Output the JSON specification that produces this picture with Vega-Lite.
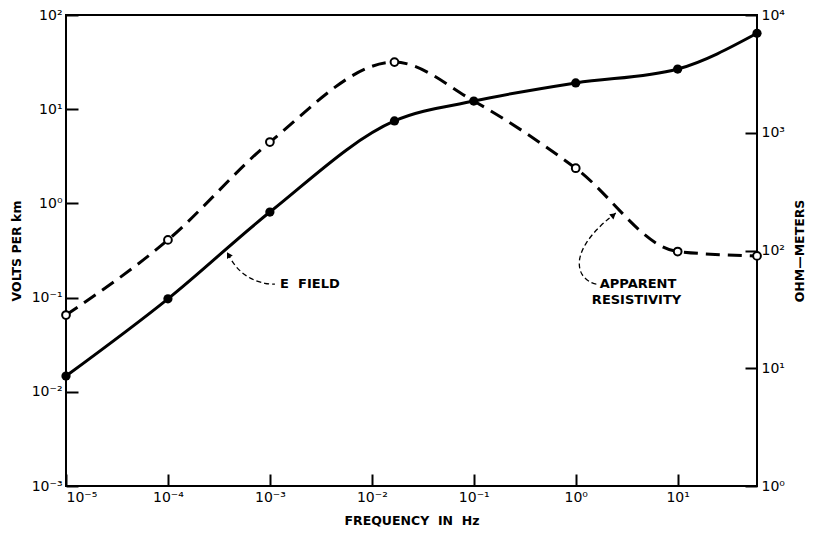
{
  "$schema": "https://vega.github.io/schema/vega-lite/v6.json",
  "width": 691,
  "height": 471,
  "autosize": {"type": "none"},
  "padding": {"left": 66, "top": 15, "right": 56, "bottom": 49},
  "background": "white",
  "config": {
    "view": {"stroke": "black", "strokeWidth": 2},
    "font": "DejaVu Sans",
    "axis": {
      "grid": false,
      "domain": false,
      "labelColor": "black",
      "labelFontSize": 14,
      "labelFont": "DejaVu Sans",
      "labelFontWeight": "normal",
      "titleColor": "black",
      "titleFont": "DejaVu Sans",
      "titleFontSize": 12.5,
      "titleFontWeight": "bold"
    }
  },
  "datasets": {
    "efield": [
      {"f": 0.00001, "v": 0.0147},
      {"f": 0.0001, "v": 0.097},
      {"f": 0.001, "v": 0.81},
      {"f": 0.01667, "v": 7.5},
      {"f": 0.1, "v": 12.2},
      {"f": 1, "v": 19.0},
      {"f": 10, "v": 26.7},
      {"f": 60, "v": 64}
    ],
    "resist": [
      {"f": 0.00001, "r": 28.3, "m": true},
      {"f": 0.0001, "r": 123, "m": true},
      {"f": 0.001, "r": 834, "m": true},
      {"f": 0.01667, "r": 3980, "m": true},
      {"f": 0.1, "r": 1860, "m": false},
      {"f": 1, "r": 500, "m": true},
      {"f": 10, "r": 98, "m": true},
      {"f": 60, "r": 90, "m": true}
    ],
    "eleader": [
      {"o": 1, "f": 0.000387, "v": 0.29},
      {"o": 2, "f": 0.000465, "v": 0.206},
      {"o": 3, "f": 0.000637, "v": 0.157},
      {"o": 4, "f": 0.000916, "v": 0.139},
      {"o": 5, "f": 0.00112, "v": 0.139}
    ],
    "rleader": [
      {"o": 1, "f": 2.47, "r": 208},
      {"o": 2, "f": 1.76, "r": 165},
      {"o": 3, "f": 1.25, "r": 118},
      {"o": 4, "f": 1.047, "r": 83},
      {"o": 5, "f": 1.12, "r": 60.7},
      {"o": 6, "f": 1.47, "r": 51.9},
      {"o": 7, "f": 1.64, "r": 51.9}
    ]
  },
  "layer": [
    {
      "layer": [
        {
          "data": {"name": "efield"},
          "mark": {"type": "line", "color": "black", "strokeWidth": 3, "interpolate": "monotone"},
          "encoding": {
            "x": {
              "field": "f", "type": "quantitative",
              "scale": {"type": "log", "domain": [0.00001, 60], "nice": false},
              "axis": {
                "title": "FREQUENCY\u00a0\u00a0IN\u00a0\u00a0Hz",
                "values": [0.00001, 0.0001, 0.001, 0.01, 0.1, 1, 10],
                "ticks": true,
                "tickColor": "black",
                "tickWidth": 2,
                "tickSize": -12,
                "labelPadding": 16,
                "titlePadding": 10,
                "zindex": 1,
                "labelExpr": "'10' + (round(log(datum.value)/LN10) < 0 ? '⁻' : '') + ['⁰','¹','²','³','⁴','⁵','⁶','⁷','⁸','⁹'][abs(round(log(datum.value)/LN10))]"
              }
            },
            "y": {
              "field": "v", "type": "quantitative",
              "scale": {"type": "log", "domain": [0.001, 100], "nice": false},
              "axis": {
                "title": "VOLTS\u00a0PER\u00a0km",
                "orient": "left",
                "values": [0.001, 0.01, 0.1, 1, 10, 100],
                "ticks": true,
                "tickColor": "black",
                "tickWidth": 2,
                "tickSize": -12,
                "labelPadding": 16,
                "titlePadding": 8,
                "zindex": 1,
                "labelExpr": "'10' + (round(log(datum.value)/LN10) < 0 ? '⁻' : '') + ['⁰','¹','²','³','⁴','⁵','⁶','⁷','⁸','⁹'][abs(round(log(datum.value)/LN10))]"
              }
            }
          }
        },
        {
          "data": {"name": "efield"},
          "mark": {"type": "point", "filled": true, "color": "black", "size": 85, "opacity": 1},
          "encoding": {
            "x": {"field": "f", "type": "quantitative"},
            "y": {"field": "v", "type": "quantitative"}
          }
        },
        {
          "data": {"name": "eleader"},
          "mark": {"type": "line", "color": "black", "strokeWidth": 1.3, "strokeDash": [5, 3], "interpolate": "basis"},
          "encoding": {
            "x": {"field": "f", "type": "quantitative"},
            "y": {"field": "v", "type": "quantitative"},
            "order": {"field": "o"}
          }
        },
        {
          "data": {"values": [{"f": 0.000392, "v": 0.285}]},
          "mark": {"type": "point", "shape": "triangle-up", "filled": true, "color": "black", "size": 45, "angle": 330, "opacity": 1},
          "encoding": {
            "x": {"field": "f", "type": "quantitative"},
            "y": {"field": "v", "type": "quantitative"}
          }
        },
        {
          "data": {"values": [{"f": 0.00126, "v": 0.139, "t": "E\u00a0\u00a0FIELD"}]},
          "mark": {"type": "text", "align": "left", "baseline": "middle", "fontSize": 13, "fontWeight": "bold", "font": "DejaVu Sans", "color": "black"},
          "encoding": {
            "x": {"field": "f", "type": "quantitative"},
            "y": {"field": "v", "type": "quantitative"},
            "text": {"field": "t"}
          }
        }
      ]
    },
    {
      "layer": [
        {
          "data": {"name": "resist"},
          "mark": {"type": "line", "color": "black", "strokeWidth": 3, "strokeDash": [14, 8], "interpolate": "monotone"},
          "encoding": {
            "x": {"field": "f", "type": "quantitative"},
            "y": {
              "field": "r", "type": "quantitative",
              "scale": {"type": "log", "domain": [1, 10000], "nice": false},
              "axis": {
                "title": "OHM—METERS",
                "orient": "right",
                "titleAngle": 270,
                "values": [1, 10, 100, 1000, 10000],
                "ticks": true,
                "tickColor": "black",
                "tickWidth": 2,
                "tickSize": -12,
                "labelPadding": 16,
                "titlePadding": 22,
                "zindex": 1,
                "labelExpr": "'10' + (round(log(datum.value)/LN10) < 0 ? '⁻' : '') + ['⁰','¹','²','³','⁴','⁵','⁶','⁷','⁸','⁹'][abs(round(log(datum.value)/LN10))]"
              }
            }
          }
        },
        {
          "data": {"name": "resist"},
          "transform": [{"filter": "datum.m"}],
          "mark": {"type": "point", "filled": true, "fill": "white", "stroke": "black", "strokeWidth": 2, "size": 60, "opacity": 1},
          "encoding": {
            "x": {"field": "f", "type": "quantitative"},
            "y": {"field": "r", "type": "quantitative"}
          }
        },
        {
          "data": {"name": "rleader"},
          "mark": {"type": "line", "color": "black", "strokeWidth": 1.3, "strokeDash": [5, 3], "interpolate": "basis"},
          "encoding": {
            "x": {"field": "f", "type": "quantitative"},
            "y": {"field": "r", "type": "quantitative"},
            "order": {"field": "o"}
          }
        },
        {
          "data": {"values": [{"f": 2.35, "r": 200}]},
          "mark": {"type": "point", "shape": "triangle-up", "filled": true, "color": "black", "size": 45, "angle": 51, "opacity": 1},
          "encoding": {
            "x": {"field": "f", "type": "quantitative"},
            "y": {"field": "r", "type": "quantitative"}
          }
        },
        {
          "data": {"values": [
            {"f": 1.72, "r": 51.9, "t": "APPARENT"},
            {"f": 1.44, "r": 38, "t": "RESISTIVITY"}
          ]},
          "mark": {"type": "text", "align": "left", "baseline": "middle", "fontSize": 13, "fontWeight": "bold", "font": "DejaVu Sans", "color": "black"},
          "encoding": {
            "x": {"field": "f", "type": "quantitative"},
            "y": {"field": "r", "type": "quantitative"},
            "text": {"field": "t"}
          }
        }
      ]
    }
  ],
  "resolve": {"scale": {"y": "independent"}}
}
